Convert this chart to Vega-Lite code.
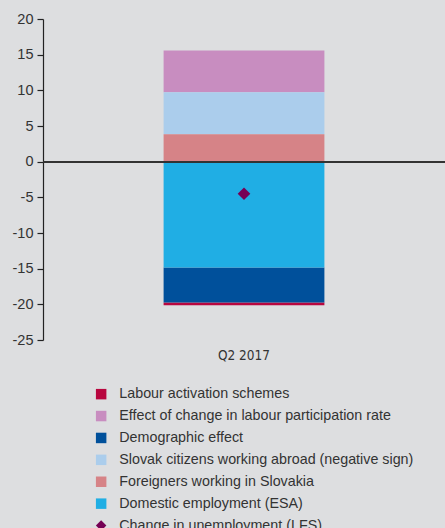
{
  "$schema": "https://vega.github.io/schema/vega-lite/v6.json",
  "autosize": {"type": "none"},
  "width": 402,
  "height": 321,
  "padding": {"left": 43, "top": 19, "right": 0, "bottom": 188},
  "background": "#dddee0",
  "config": {
    "view": {"stroke": null},
    "font": "Liberation Sans",
    "axis": {"labelColor": "#333333", "labelFont": "Liberation Sans"},
    "legend": {"labelFont": "Liberation Sans"}
  },
  "data": {
    "values": [
      {"period": "Q2 2017", "series": "Labour activation schemes", "value": -0.4, "stack": 3},
      {"period": "Q2 2017", "series": "Effect of change in labour participation rate", "value": 5.88, "stack": 3},
      {"period": "Q2 2017", "series": "Demographic effect", "value": -4.91, "stack": 2},
      {"period": "Q2 2017", "series": "Slovak citizens working abroad (negative sign)", "value": 5.89, "stack": 2},
      {"period": "Q2 2017", "series": "Foreigners working in Slovakia", "value": 3.83, "stack": 1},
      {"period": "Q2 2017", "series": "Domestic employment (ESA)", "value": -14.83, "stack": 1},
      {"period": "Q2 2017", "series": "Change in unemployment (LFS)", "value": -4.5, "stack": 0}
    ]
  },
  "encoding": {
    "x": {
      "field": "period",
      "type": "nominal",
      "scale": {"paddingInner": 0, "paddingOuter": 0.75},
      "axis": {
        "title": null,
        "ticks": false,
        "domain": false,
        "labelAngle": 0,
        "labelFont": "'DejaVu Sans Condensed', 'Liberation Sans Narrow', sans-serif",
        "labelFontSize": 13.5,
        "labelColor": "#333333",
        "labelPadding": 8
      }
    },
    "y": {
      "field": "value",
      "type": "quantitative",
      "scale": {"domain": [-25, 20], "nice": false, "zero": false},
      "axis": {
        "title": null,
        "values": [-25, -20, -15, -10, -5, 0, 5, 10, 15, 20],
        "tickCount": 10,
        "labelExpr": "'' + datum.value",
        "labelOverlap": false,
        "labelBound": false,
        "labelFlush": false,
        "grid": false,
        "domainColor": "#222222",
        "domainWidth": 1.2,
        "tickColor": "#222222",
        "tickSize": 6,
        "tickWidth": 1.2,
        "labelFontSize": 14.5,
        "labelPadding": 4
      }
    }
  },
  "layer": [
    {
      "transform": [{"filter": "datum.series !== 'Change in unemployment (LFS)'"}],
      "mark": {"type": "bar", "stroke": null},
      "encoding": {
        "order": {"field": "stack", "type": "quantitative"},
        "color": {
          "field": "series",
          "type": "nominal",
          "scale": {
            "domain": [
              "Labour activation schemes",
              "Effect of change in labour participation rate",
              "Demographic effect",
              "Slovak citizens working abroad (negative sign)",
              "Foreigners working in Slovakia",
              "Domestic employment (ESA)",
              "Change in unemployment (LFS)"
            ],
            "range": ["#b8063f", "#c88dc0", "#00509b", "#abcdec", "#d68387", "#20aee4", "#760055"]
          },
          "legend": {
            "title": null,
            "orient": "none",
            "legendX": 51,
            "legendY": 368,
            "padding": 0,
            "symbolSize": 110,
            "symbolStrokeWidth": 0,
            "labelFontSize": 14.3,
            "labelColor": "#333333",
            "labelOffset": 11,
            "rowPadding": 6.9,
            "labelLimit": 400
          }
        }
      }
    },
    {
      "mark": {"type": "rule", "color": "#333333", "strokeWidth": 1.5},
      "encoding": {"y": {"datum": 0}, "x": {}}
    },
    {
      "transform": [{"filter": "datum.series === 'Change in unemployment (LFS)'"}],
      "mark": {"type": "point", "filled": true, "size": 160, "opacity": 1},
      "encoding": {
        "color": {"field": "series", "type": "nominal"},
        "shape": {
          "field": "series",
          "type": "nominal",
          "scale": {
            "domain": [
              "Labour activation schemes",
              "Effect of change in labour participation rate",
              "Demographic effect",
              "Slovak citizens working abroad (negative sign)",
              "Foreigners working in Slovakia",
              "Domestic employment (ESA)",
              "Change in unemployment (LFS)"
            ],
            "range": ["square", "square", "square", "square", "square", "square", "diamond"]
          }
        }
      }
    }
  ]
}
